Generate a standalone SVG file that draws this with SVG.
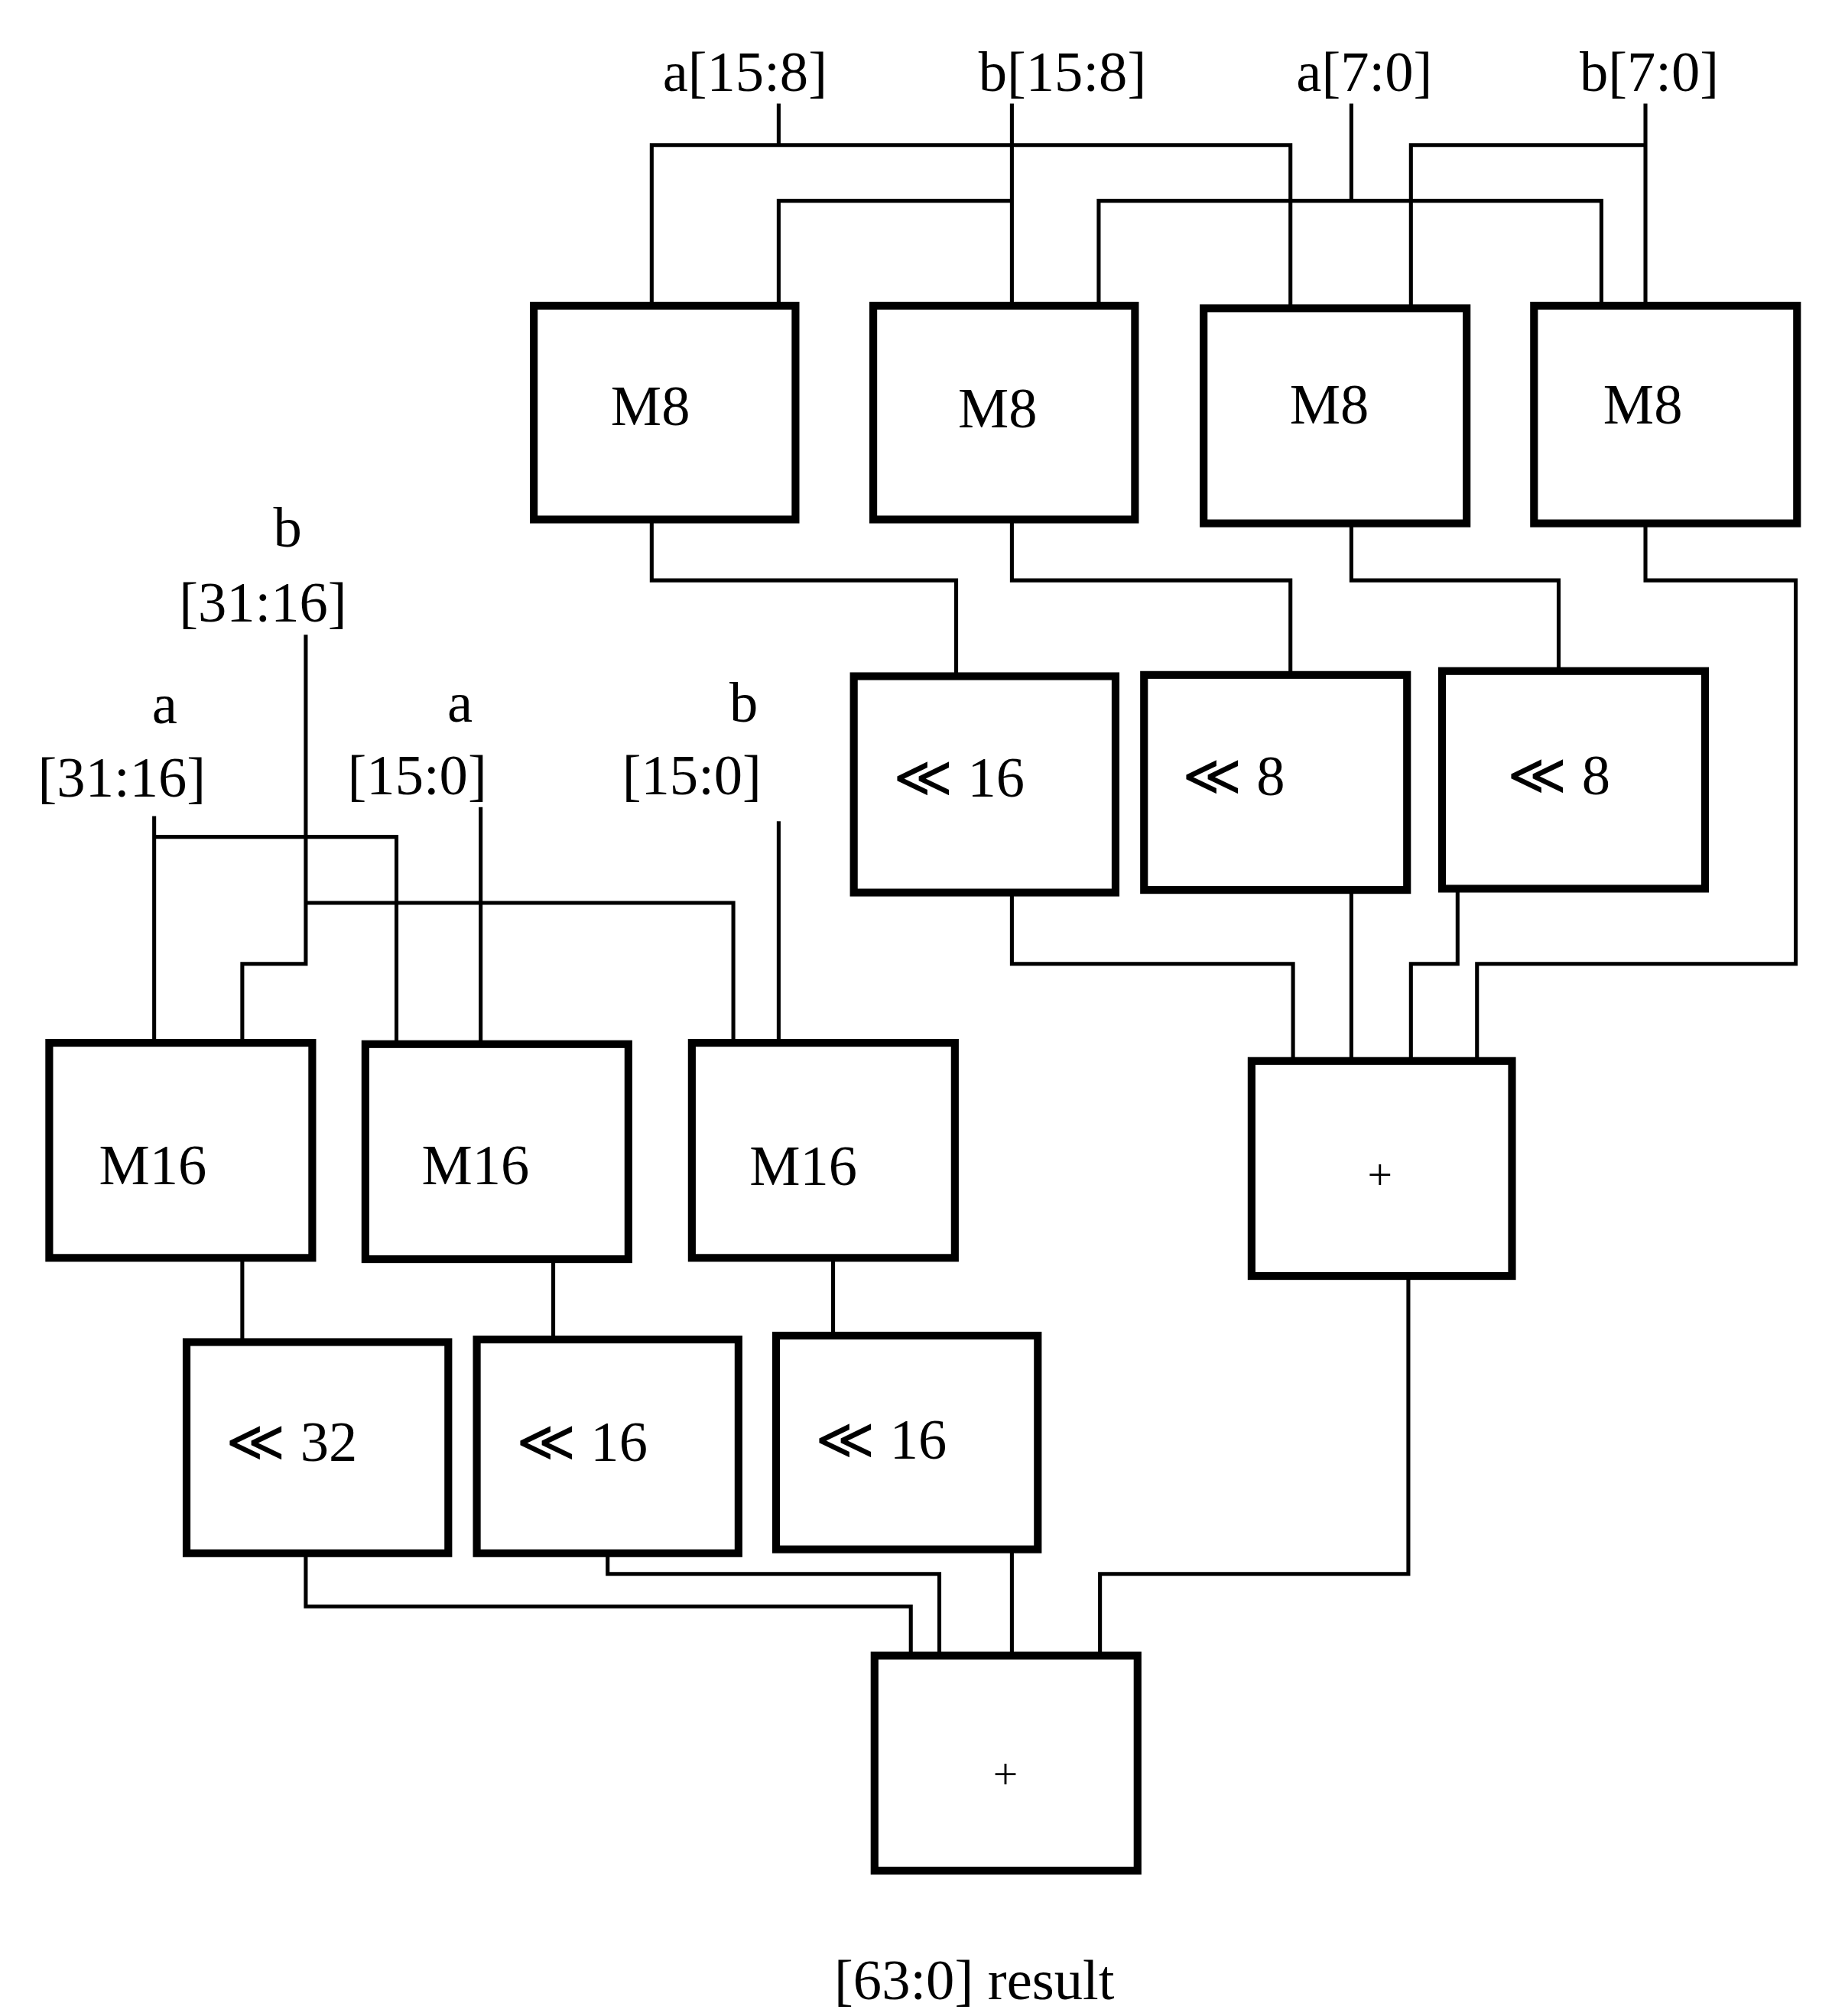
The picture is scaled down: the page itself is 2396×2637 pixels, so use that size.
<svg xmlns="http://www.w3.org/2000/svg" width="2396" height="2637" viewBox="0 0 2396 2637">
<style>
.b{fill:none;stroke:#000;stroke-width:6}
.w{fill:none;stroke:#000;stroke-width:3}
text{font-family:"Liberation Serif","DejaVu Serif",serif;font-size:44px;fill:#000;text-anchor:middle}
.p{font-size:34px}
</style>
<rect width="2396" height="2637" fill="#fff"/>
<g transform="scale(1.6945)">
<g id="connectors" class="w">
<path d="M601 80V112M503 236V112H996V238"/>
<path d="M781 80V236M601 236V155H781"/>
<path d="M1043 80V155M848 236V155H1236V236"/>
<path d="M1270 80V236M1089 238V112H1270"/>
<path d="M503 401V448H738V522"/>
<path d="M781 401V448H996V521"/>
<path d="M1043 404V448H1203V518"/>
<path d="M1270 404V448H1386V744H1140V819"/>
<path d="M781 689V744H998V819"/>
<path d="M1043 687V819"/>
<path d="M1125 686V744H1089V819"/>
<path d="M1087 985V1215H849V1278"/>
<path d="M236 490V744H187V805M236 697H566V805"/>
<path d="M119 630V805M119 646H306V806"/>
<path d="M371 623V806"/>
<path d="M601 634V805"/>
<path d="M187 971V1036M427 972V1034M643 971V1031"/>
<path d="M236 1199V1240H703V1278"/>
<path d="M469 1199V1215H725V1278"/>
<path d="M781 1196V1278"/>
</g>
<g id="m8a"><rect class="b" x="412" y="236" width="202" height="165"/><text x="502" y="328">M8</text></g>
<g id="m8b"><rect class="b" x="674" y="236" width="202" height="165"/><text x="770" y="330">M8</text></g>
<g id="m8c"><rect class="b" x="929" y="238" width="203" height="166"/><text x="1026" y="327">M8</text></g>
<g id="m8d"><rect class="b" x="1184" y="236" width="203" height="168"/><text x="1268" y="327">M8</text></g>
<g id="s16a"><rect class="b" x="659" y="522" width="202" height="167"/><text x="740" y="615">≪ 16</text></g>
<g id="s8a"><rect class="b" x="883" y="521" width="203" height="166"/><text x="952" y="614">≪ 8</text></g>
<g id="s8b"><rect class="b" x="1113" y="518" width="203" height="168"/><text x="1203" y="613">≪ 8</text></g>
<g id="addR"><rect class="b" x="966" y="819" width="201" height="166"/><text class="p" x="1065" y="918">+</text></g>
<g id="m16a"><rect class="b" x="38" y="805" width="203" height="166"/><text x="118" y="914">M16</text></g>
<g id="m16b"><rect class="b" x="282" y="806" width="203" height="166"/><text x="367" y="914">M16</text></g>
<g id="m16c"><rect class="b" x="534" y="805" width="203" height="166"/><text x="620" y="915">M16</text></g>
<g id="s32"><rect class="b" x="144" y="1036" width="202" height="163"/><text x="225" y="1128">≪ 32</text></g>
<g id="s16b"><rect class="b" x="368" y="1034" width="202" height="165"/><text x="449" y="1128">≪ 16</text></g>
<g id="s16c"><rect class="b" x="599" y="1031" width="202" height="165"/><text x="680" y="1126">≪ 16</text></g>
<g id="addB"><rect class="b" x="675" y="1278" width="203" height="166"/><text class="p" x="776" y="1381">+</text></g>
<g id="labels">
<text x="575" y="70">a[15:8]</text>
<text x="820" y="70">b[15:8]</text>
<text x="1053" y="70">a[7:0]</text>
<text x="1273" y="70">b[7:0]</text>
<text x="222" y="422">b</text><text x="203" y="480">[31:16]</text>
<text x="127" y="558">a</text><text x="94" y="615">[31:16]</text>
<text x="355" y="557">a</text><text x="322" y="613">[15:0]</text>
<text x="574" y="557">b</text><text x="534" y="613">[15:0]</text>
<text x="752" y="1543">[63:0] result</text>
</g>
</g>
</svg>
